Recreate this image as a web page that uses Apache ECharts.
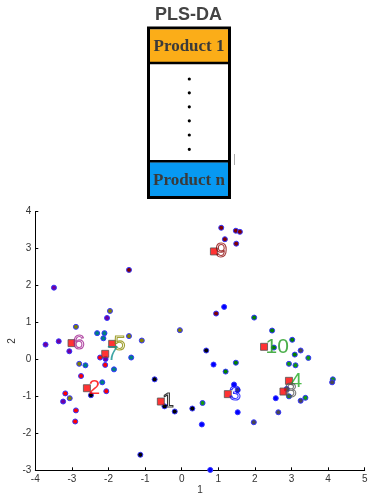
<!DOCTYPE html>
<html><head><meta charset="utf-8">
<script src="https://cdn.jsdelivr.net/npm/echarts@6/dist/echarts.min.js"></script>
<style>html,body{margin:0;padding:0;background:#fff}#c{width:368px;height:494px}</style>
</head><body><div id="c"></div>
<script>
// ---- data ----
const pts1 = [[-0.74,-0.54],[-0.47,-1.27],[-0.19,-1.41],[-1.13,-2.58],[0.67,0.24],[0.29,-1.33],[-2.48,-0.97]];
const pts2 = [[-2.23,0.05],[-2.09,-0.15],[-2.75,-0.45],[-2.06,-0.86],[-3.18,-0.92],[-2.89,-1.38],[-2.91,-1.68]];
const pts3 = [[0.87,-0.14],[1.43,-0.68],[1.53,-1.43],[0.55,-1.76],[0.78,-2.99],[2.57,-1.05],[1.16,1.42]];
const pts4 = [[0.57,-1.18],[2.93,-1.00],[3.38,-1.04],[4.13,-0.54],[3.46,0.04],[3.11,-0.16],[2.93,-0.12]];
const pts5 = [[-1.96,1.31],[-2.89,0.88],[-1.44,0.63],[-0.05,0.79],[-2.80,-0.12],[-3.06,-1.05],[-1.09,0.51]];
const pts6 = [[-3.49,1.94],[-2.04,1.12],[-3.72,0.40],[-3.36,0.49],[-3.07,0.22],[-2.08,0.01],[-3.24,-1.14]];
const pts7 = [[-2.31,0.71],[-2.11,0.71],[-2.14,0.57],[-1.38,0.05],[-2.63,-0.16],[-1.85,-0.27],[-2.17,-0.62]];
const pts8 = [[1.53,-0.83],[1.97,-1.70],[2.64,-1.43],[3.25,0.24],[3.25,-1.12],[4.11,-0.62],[2.87,-0.80]];
const pts9 = [[1.08,3.56],[1.48,3.48],[1.59,3.45],[1.18,3.25],[1.49,3.13],[0.94,1.24],[-1.44,2.42]];
const pts10 = [[1.98,1.13],[2.47,0.78],[2.52,0.32],[3.02,0.53],[3.09,0.13],[1.48,-0.09],[1.20,-0.33]];

const centerLabels = ['1','2','3','4','5','6','7','8','9','10'];
const centerX = [-0.57,-2.59,1.26,2.93,-1.90,-3.01,-2.09,2.78,0.88,2.25];
const centerY = [-1.14,-0.78,-0.94,-0.58,0.42,0.44,0.15,-0.87,2.92,0.34];

const title = 'PLS-DA';
const boxTop = 'Product 1';
const boxBottom = 'Product n';
const xName = '1';
const yName = '2';

// ---- styles ----
const faceColors = ['#000000','#ff0000','#0000ff','#119911','#808000','#7000a0','#008080','#484850','#800000','#008000'];
const labelColors = ['#000000','#ff0000','#0000ff','#22aa22','#8a8a00','#a02090','#109090','#555555','#8b0000','#1d9a1d'];
const hollow = [true,false,true,false,true,true,false,true,true,false];

const allPts = [pts1,pts2,pts3,pts4,pts5,pts6,pts7,pts8,pts9,pts10];

const series = allPts.map((p,i)=>({
  type:'scatter', name:centerLabels[i], data:p, symbolSize:5,
  itemStyle:{color:faceColors[i], borderColor:'#3535ff', borderWidth:1, opacity:1},
  z:2
}));

series.push({
  type:'scatter',
  data: centerX.map((x,i)=>({
    value:[x,centerY[i]], name:centerLabels[i],
    label:{show:true, formatter:centerLabels[i], position:'right', distance:-2.5,
      fontFamily:'Liberation Sans', fontSize:21,
      color: hollow[i] ? 'rgba(255,255,255,0)' : labelColors[i],
      textBorderColor: hollow[i] ? labelColors[i] : 'transparent',
      textBorderWidth: hollow[i] ? 1.1 : 0}
  })),
  symbol:'rect', symbolSize:7,
  itemStyle:{color:'#ff0000', borderColor:'#555', borderWidth:1},
  z:5
});

const chart = echarts.init(document.getElementById('c'), null, {renderer:'canvas'});
const axisCommon = {
  axisLine:{show:true, onZero:false, lineStyle:{color:'#000', width:1}},
  axisTick:{show:true, inside:true, length:3, lineStyle:{color:'#000'}},
  axisLabel:{color:'#333', fontSize:10, fontFamily:'Liberation Sans', margin:4},
  splitLine:{show:false},
  nameLocation:'middle',
  nameMoveOverlap:false,
  nameTextStyle:{color:'#333', fontSize:10, fontFamily:'Liberation Sans'}
};
chart.setOption({
  animation:false,
  backgroundColor:'#fff',
  grid:{left:35.3, right:3.3, top:211.5, bottom:23.7, containLabel:false, outerBoundsMode:'none'},
  xAxis:Object.assign({type:'value', min:-4, max:5, interval:1, name:xName, nameGap:15}, axisCommon),
  yAxis:Object.assign({type:'value', min:-3, max:4, interval:1, name:yName, nameGap:18}, axisCommon),
  series:series,
  graphic:[
    {type:'text', x:188.5, y:15.5, style:{text:title, font:'bold 18px "Liberation Sans"', fill:'#444', align:'center', verticalAlign:'middle'}},
    {type:'rect', shape:{x:148.5, y:28, width:81, height:169.5}, style:{fill:'#fff', stroke:'#000', lineWidth:3}},
    {type:'rect', shape:{x:150, y:29.5, width:78, height:32.5}, style:{fill:'#fbad18'}},
    {type:'rect', shape:{x:150, y:162.3, width:78, height:33.7}, style:{fill:'#0799f2'}},
    {type:'line', shape:{x1:148, y1:63, x2:230, y2:63}, style:{stroke:'#000', lineWidth:2.6}},
    {type:'line', shape:{x1:148, y1:161.2, x2:230, y2:161.2}, style:{stroke:'#000', lineWidth:2.4}},
    {type:'text', x:189, y:47, style:{text:boxTop, font:'bold 17px "Liberation Serif"', fill:'#3a3a3a', align:'center', verticalAlign:'middle'}},
    {type:'text', x:189, y:181, style:{text:boxBottom, font:'bold 17px "Liberation Serif"', fill:'#3a3a3a', align:'center', verticalAlign:'middle'}},
    {type:'circle', shape:{cx:189.3, cy:79, r:1.6}, style:{fill:'#000'}},
    {type:'circle', shape:{cx:189.3, cy:92.8, r:1.6}, style:{fill:'#000'}},
    {type:'circle', shape:{cx:189.3, cy:106.8, r:1.6}, style:{fill:'#000'}},
    {type:'circle', shape:{cx:189.3, cy:120.8, r:1.6}, style:{fill:'#000'}},
    {type:'circle', shape:{cx:189.3, cy:135, r:1.6}, style:{fill:'#000'}},
    {type:'circle', shape:{cx:189.3, cy:149.3, r:1.6}, style:{fill:'#000'}},
    {type:'line', shape:{x1:234.5, y1:154, x2:234.5, y2:165}, style:{stroke:'#aaa', lineWidth:1}}
  ]
});
</script></body></html>
